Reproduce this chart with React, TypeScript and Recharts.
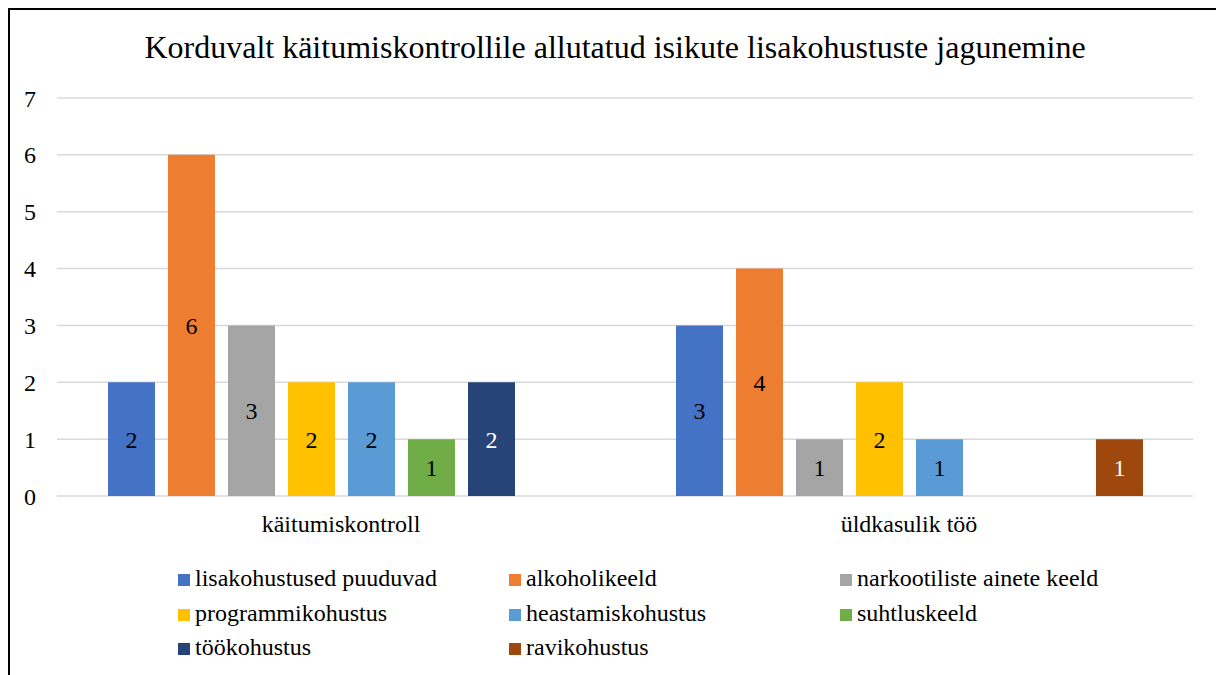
import { BarChart, Bar, XAxis, YAxis, CartesianGrid, Legend, LabelList } from "recharts";

const FONT = '"Liberation Serif", "Times New Roman", serif';

const categories = ["käitumiskontroll", "üldkasulik töö"];

const seriesNames = [
  "lisakohustused puuduvad",
  "alkoholikeeld",
  "narkootiliste ainete keeld",
  "programmikohustus",
  "heastamiskohustus",
  "suhtluskeeld",
  "töökohustus",
  "ravikohustus",
];

const seriesColors = [
  "#4472c4",
  "#ed7d31",
  "#a5a5a5",
  "#ffc000",
  "#5b9bd5",
  "#70ad47",
  "#264478",
  "#9e480e",
];

// label text colour per series (dark bars get white labels)
const labelColors = ["#000", "#000", "#000", "#000", "#000", "#000", "#fff", "#fff"];

const kaitumiskontrollValues = [2, 6, 3, 2, 2, 1, 2, null];
const uldkasulikTooValues = [3, 4, 1, 2, 1, null, null, 1];

const yTicks = [0, 1, 2, 3, 4, 5, 6, 7];

const valueRows = [kaitumiskontrollValues, uldkasulikTooValues];

const data = categories.map((name, ci) => {
  const row: Record<string, string | number | null> = { name };
  seriesNames.forEach((_, si) => {
    row["s" + si] = valueRows[ci][si];
  });
  return row;
});

const COL_X = [168, 499, 830];

function LegendGrid() {
  return (
    <div style={{ position: "relative", width: 1210, height: 104, fontFamily: FONT }}>
      {seriesNames.map((n, i) => {
        const col = i % 3;
        const row = Math.floor(i / 3);
        return (
          <div
            key={n}
            style={{
              position: "absolute",
              left: COL_X[col],
              top: row * 34.5,
              height: 34.5,
              lineHeight: "34.5px",
              fontSize: 24,
              color: "#000",
              whiteSpace: "nowrap",
            }}
          >
            <span
              style={{
                position: "absolute",
                left: 0,
                top: 13,
                width: 12,
                height: 12,
                background: seriesColors[i],
              }}
            />
            <span style={{ marginLeft: 17 }}>{n}</span>
          </div>
        );
      })}
    </div>
  );
}

export default function App() {
  return (
    <div
      className="chart-box"
      style={{
        width: 1210,
        height: 680,
        border: "2px solid #000",
        position: "relative",
        background: "#fff",
        fontFamily: FONT,
        overflow: "hidden",
      }}
    >
      <style>{`.chart-box svg text { font-family: "Liberation Serif", "Times New Roman", serif !important; }`}</style>
      <div
        style={{
          position: "absolute",
          left: 0,
          top: 18.5,
          width: 1210,
          textAlign: "center",
          fontSize: 32,
          lineHeight: "normal",
          color: "#000",
          whiteSpace: "nowrap",
        }}
      >
        Korduvalt käitumiskontrollile allutatud isikute lisakohustuste jagunemine
      </div>
      <BarChart
        width={1210}
        height={670}
        data={data}
        margin={{ top: 88, right: 27, bottom: 154, left: 0 }}
        barCategoryGap={51}
        barGap={13}
      >
        <CartesianGrid vertical={false} stroke="#d9d9d9" strokeWidth={1.5} />
        <XAxis
          dataKey="name"
          axisLine={false}
          tickLine={false}
          tickMargin={13}
          tick={{ fontSize: 24, fill: "#000" }}
        />
        <YAxis
          width={47}
          domain={[0, 7]}
          ticks={yTicks}
          interval={0}
          axisLine={false}
          tickLine={false}
          tickMargin={15}
          tick={{ fontSize: 24, fill: "#000" }}
        />
        <Legend
          layout="vertical"
          align="center"
          verticalAlign="middle"
          wrapperStyle={{ left: 0, top: 551, width: 1210 }}
          content={() => <LegendGrid />}
        />
        {seriesNames.map((n, i) => (
          <Bar key={n} dataKey={"s" + i} name={n} fill={seriesColors[i]} isAnimationActive={false}>
            <LabelList dataKey={"s" + i} position="center" fill={labelColors[i]} fontSize={24} />
          </Bar>
        ))}
      </BarChart>
    </div>
  );
}
